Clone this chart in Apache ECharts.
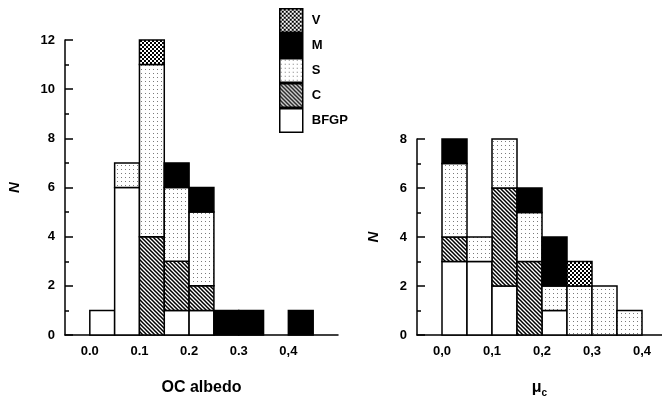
<!DOCTYPE html>
<html>
<head>
<meta charset="utf-8">
<script src="https://cdn.jsdelivr.net/npm/echarts@6/dist/echarts.min.js"></script>
<style>
  html, body { margin: 0; padding: 0; background: #fff; }
  #chart { width: 662px; height: 396px; }
</style>
</head>
<body>
<div id="chart"></div>
<script>
// Class order from the bottom of each stack upwards
const classNames = ['BFGP', 'C', 'S', 'M', 'V'];
const legendOrder = ['V', 'M', 'S', 'C', 'BFGP'];
const binWidth = 0.05;

// OC albedo histogram (bin left edges and counts per class)
const albedoBins = [0.00, 0.05, 0.10, 0.15, 0.20, 0.25, 0.30, 0.35, 0.40];
const albedoBFGP = [1, 6, 0, 1, 1, 0, 0, 0, 0];
const albedoC    = [0, 0, 4, 2, 1, 0, 0, 0, 0];
const albedoS    = [0, 1, 7, 3, 3, 0, 0, 0, 0];
const albedoM    = [0, 0, 0, 1, 1, 1, 1, 0, 1];
const albedoV    = [0, 0, 1, 0, 0, 0, 0, 0, 0];

// mu_c histogram
const muBins = [0.00, 0.05, 0.10, 0.15, 0.20, 0.25, 0.30, 0.35];
const muBFGP = [3, 3, 2, 0, 1, 0, 0, 0];
const muC    = [1, 0, 4, 3, 0, 0, 0, 0];
const muS    = [3, 1, 2, 2, 1, 2, 2, 1];
const muM    = [1, 0, 0, 1, 2, 0, 0, 0];
const muV    = [0, 0, 0, 0, 0, 1, 0, 0];

// Tick labels
const albedoTicks = [0.0, 0.1, 0.2, 0.3, 0.4];
const albedoTickText = ['0.0', '0.1', '0.2', '0.3', '0,4'];
const muTicks = [0.0, 0.1, 0.2, 0.3, 0.4];
const muTickText = ['0,0', '0,1', '0,2', '0,3', '0,4'];

// ---- fill patterns ----
function makePattern(w, h, draw) {
  const c = document.createElement('canvas');
  c.width = w; c.height = h;
  const ctx = c.getContext('2d');
  ctx.fillStyle = '#fff';
  ctx.fillRect(0, 0, w, h);
  draw(ctx);
  return { image: c, repeat: 'repeat' };
}
const fills = {
  BFGP: '#ffffff',
  C: makePattern(4, 4, ctx => {
    ctx.strokeStyle = '#000';
    ctx.lineWidth = 1.5;
    ctx.beginPath();
    ctx.moveTo(-1, -1); ctx.lineTo(5, 5);
    ctx.moveTo(-1, 3); ctx.lineTo(1, 5);
    ctx.moveTo(3, -1); ctx.lineTo(5, 1);
    ctx.stroke();
  }),
  S: makePattern(4, 4, ctx => {
    ctx.fillStyle = '#7a7a7a';
    ctx.fillRect(1, 1, 1, 1);
  }),
  M: '#000000',
  V: makePattern(4, 4, ctx => {
    ctx.fillStyle = '#000';
    ctx.fillRect(0, 0, 2, 2);
    ctx.fillRect(2, 2, 2, 2);
  })
};

// Build stacked segments [binStart, lower, upper] for each class
function stackSegments(bins, byClass) {
  const base = bins.map(() => 0);
  const out = {};
  classNames.forEach(name => {
    const counts = byClass[name];
    out[name] = [];
    bins.forEach((b, i) => {
      if (counts[i] > 0) {
        out[name].push([b, base[i], base[i] + counts[i]]);
      }
      base[i] += counts[i];
    });
  });
  return out;
}
const albedoSeg = stackSegments(albedoBins, {
  BFGP: albedoBFGP, C: albedoC, S: albedoS, M: albedoM, V: albedoV
});
const muSeg = stackSegments(muBins, {
  BFGP: muBFGP, C: muC, S: muS, M: muM, V: muV
});

function binRenderer(name) {
  return function (params, api) {
    const x0 = api.value(0), lo = api.value(1), hi = api.value(2);
    const p0 = api.coord([x0, hi]);
    const p1 = api.coord([x0 + binWidth, lo]);
    return {
      type: 'rect',
      shape: { x: p0[0], y: p0[1], width: p1[0] - p0[0], height: p1[1] - p0[1] },
      style: { fill: fills[name], stroke: '#000', lineWidth: 1.5 }
    };
  };
}

const font = "'Liberation Sans', Arial, sans-serif";
const series = [];
classNames.forEach(name => {
  series.push({
    type: 'custom', name: name, xAxisIndex: 0, yAxisIndex: 0,
    renderItem: binRenderer(name), data: albedoSeg[name],
    itemStyle: { color: fills[name] }, encode: { x: [0], y: [1, 2] }
  });
  series.push({
    type: 'custom', name: name, xAxisIndex: 1, yAxisIndex: 1,
    renderItem: binRenderer(name), data: muSeg[name],
    itemStyle: { color: fills[name] }, encode: { x: [0], y: [1, 2] }
  });
});

function xAxisFor(gridIndex, max, ticks, texts, nameOpt) {
  return Object.assign({
    type: 'value', gridIndex: gridIndex, min: -0.05, max: max,
    axisLine: { show: true, onZero: false, lineStyle: { color: '#000', width: 1.5 } },
    axisTick: { show: false },
    splitLine: { show: false },
    axisLabel: {
      customValues: ticks,
      formatter: v => texts[ticks.findIndex(t => Math.abs(t - v) < 1e-9)],
      color: '#000', fontFamily: font, fontWeight: 'bold', fontSize: 13, margin: 10
    }
  }, nameOpt);
}
function yAxisFor(gridIndex, max, gap) {
  return {
    type: 'value', gridIndex: gridIndex, min: 0, max: max, interval: 2,
    name: 'N', nameLocation: 'middle', nameGap: gap, nameRotate: 90,
    nameTextStyle: { fontFamily: font, fontWeight: 'bold', fontStyle: 'italic', fontSize: 15, color: '#000' },
    axisLine: { show: true, onZero: false, lineStyle: { color: '#000', width: 1.5 } },
    axisTick: { show: true, inside: true, length: 8, lineStyle: { color: '#000', width: 1.5 } },
    minorTick: { show: true, splitNumber: 2, length: 4, lineStyle: { color: '#000', width: 1.5 } },
    splitLine: { show: false },
    axisLabel: { color: '#000', fontFamily: font, fontWeight: 'bold', fontSize: 13, margin: 10 }
  };
}

const option = {
  backgroundColor: '#fff',
  animation: false,
  grid: [
    { left: 65, top: 40, width: 273, height: 295, containLabel: false, outerBoundsMode: 'none' },
    { left: 417, top: 139, width: 245, height: 196, containLabel: false, outerBoundsMode: 'none' }
  ],
  legend: {
    left: 279, top: 8, padding: 0, orient: 'vertical', itemGap: 0,
    itemWidth: 23, itemHeight: 23.5, icon: 'rect', selectedMode: false,
    textStyle: { fontFamily: font, fontWeight: 'bold', fontSize: 13, color: '#000', padding: [0, 0, 0, 4] },
    data: legendOrder.map(n => ({
      name: n,
      itemStyle: { color: fills[n], borderColor: '#000', borderWidth: 1.5 }
    }))
  },
  xAxis: [
    xAxisFor(0, 0.5, albedoTicks, albedoTickText, {
      name: 'OC albedo', nameLocation: 'middle', nameGap: 45,
      nameTextStyle: { fontFamily: font, fontWeight: 'bold', fontSize: 16, color: '#000' }
    }),
    xAxisFor(1, 0.44, muTicks, muTickText, {
      name: '{m|μ}{c|c}', nameLocation: 'middle', nameGap: 43,
      nameTextStyle: {
        color: '#000',
        rich: {
          m: { fontFamily: font, fontWeight: 'bold', fontSize: 16, color: '#000' },
          c: { fontFamily: font, fontWeight: 'bold', fontSize: 10, color: '#000', padding: [10, 0, 0, 0] }
        }
      }
    })
  ],
  yAxis: [yAxisFor(0, 12, 43), yAxisFor(1, 8, 36)],
  series: series
};

const chart = echarts.init(document.getElementById('chart'), null, { renderer: 'canvas' });
chart.setOption(option);
</script>
</body>
</html>
